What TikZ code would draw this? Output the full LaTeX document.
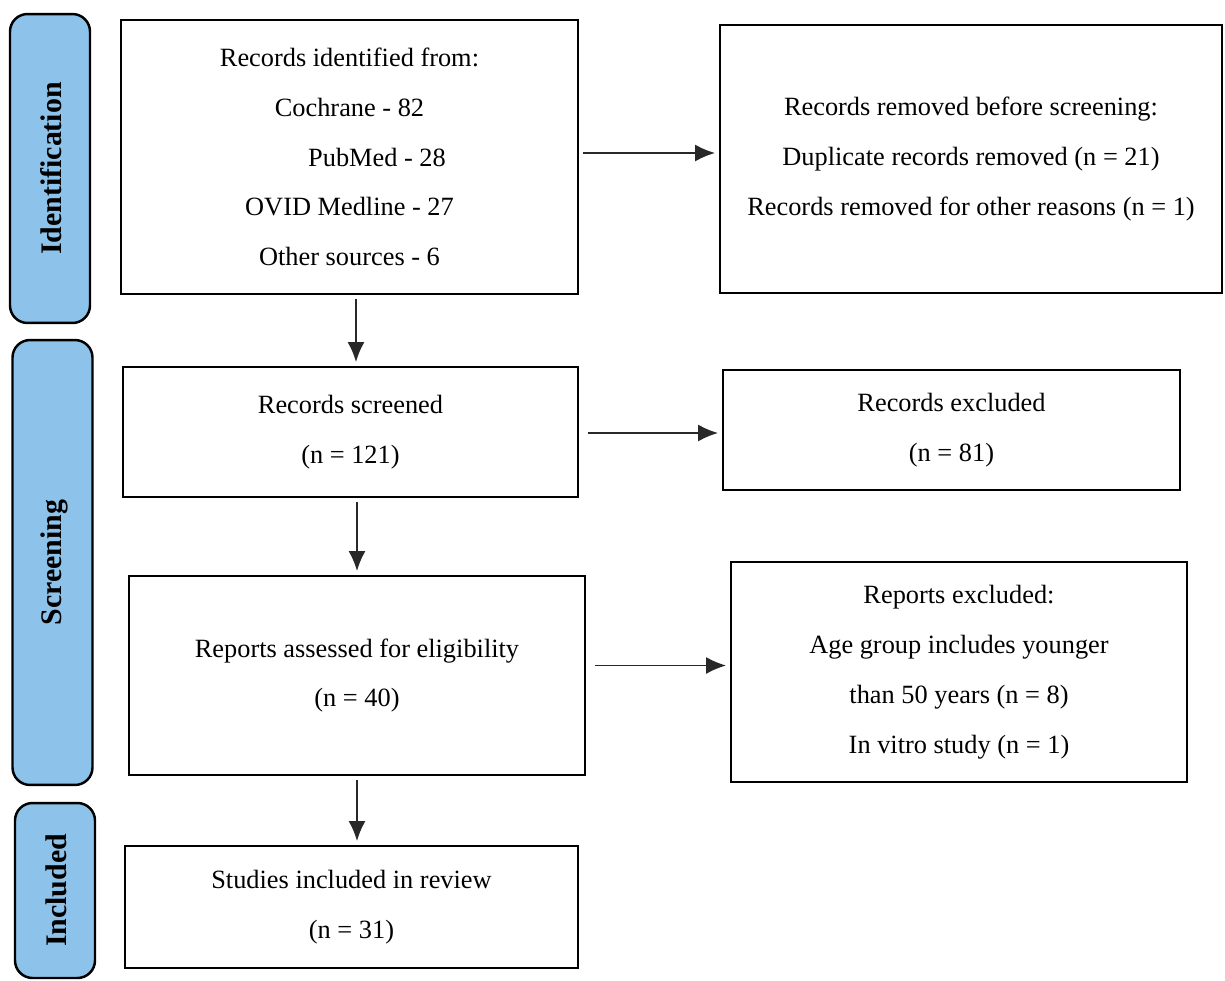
\documentclass[tikz,border=0pt]{standalone}
\usepackage{fontspec}
\setmainfont{Liberation Serif}
\usetikzlibrary{arrows.meta,positioning,calc}
\definecolor{PhaseBlue}{RGB}{141,195,234}
\definecolor{ArrowGray}{RGB}{40,40,40}
\tikzset{
  flowbox/.style={draw=black,line width=1.6pt,fill=white,align=center,
    font=\fontsize{15}{28.35}\selectfont,inner sep=0pt},
  phasebar/.style={draw=black,line width=1.4pt,rounded corners=3.5mm,fill=PhaseBlue,
    minimum width=1.6cm},
  phaselabel/.style={rotate=90,font=\fontsize{17}{19}\selectfont\bfseries},
  flowarrow/.style={-{Latex[length=4mm,width=3.4mm]},line width=1.1pt,draw=ArrowGray,
    shorten <=2pt,shorten >=2pt},
}
\begin{document}
\begin{tikzpicture}[x=0.02cm,y=-0.02cm]
  \useasboundingbox (0,0) rectangle (1225,981);
  % phase bars on the left
  \node[phasebar,minimum height=6.18cm] (idbar) at (50,168.5) {};
  \node[phaselabel] at ([xshift=0.03cm]idbar) {Identification};
  \node[phasebar,minimum height=8.9cm] (scbar) at (52.5,562.5) {};
  \node[phaselabel] at ([xshift=0.03cm]scbar) {Screening};
  \node[phasebar,minimum height=3.5cm] (inbar) at (55,890.5) {};
  \node[phaselabel] at ([xshift=0.03cm]inbar) {Included};
  % main column
  \node[flowbox,minimum width=9.14cm,minimum height=5.48cm] (ident) at (349.5,157)
    {Records identified from:\\Cochrane - 82\\\hspace*{1.1cm}PubMed - 28\\OVID Medline - 27\\Other sources - 6};
  \node[flowbox,minimum width=9.1cm,minimum height=2.6cm] (screened) at (350.5,432)
    {Records screened\\(n = 121)};
  \node[flowbox,minimum width=9.12cm,minimum height=3.98cm] (assessed) at (357,675.5)
    {Reports assessed for eligibility\\(n = 40)};
  \node[flowbox,minimum width=9.06cm,minimum height=2.44cm] (included) at (351.5,907)
    {Studies included in review\\(n = 31)};
  % right column
  \node[flowbox,minimum width=10.04cm,minimum height=5.36cm] (removed) at (971,159)
    {Records removed before screening:\\Duplicate records removed (n = 21)\\Records removed for other reasons (n = 1)};
  \node[flowbox,minimum width=9.14cm,minimum height=2.4cm] (excluded) at (951.5,430)
    {Records excluded\\(n = 81)};
  \node[flowbox,minimum width=9.12cm,minimum height=4.4cm] (reportsexcl) at (959,672)
    {Reports excluded:\\Age group includes younger\\than 50 years (n = 8)\\In vitro study (n = 1)};
  % arrows
  \draw[flowarrow] ([yshift=0.08cm]ident.east) -- ([yshift=0.08cm]ident.east -| removed.west);
  \draw[flowarrow] ([xshift=0.1cm,yshift=-0.02cm]screened.east) -- ([yshift=-0.02cm]screened.east -| excluded.west);
  \draw[flowarrow] ([xshift=0.1cm,yshift=0.2cm]assessed.east) -- ([yshift=0.2cm]assessed.east -| reportsexcl.west);
  \draw[flowarrow] ([xshift=0.13cm]ident.south) -- ([xshift=0.13cm]ident.south |- screened.north);
  \draw[flowarrow] ([xshift=0.13cm]screened.south) -- ([xshift=0.13cm]screened.south |- assessed.north);
  \draw[flowarrow] (assessed.south) -- (assessed.south |- included.north);
\end{tikzpicture}
\end{document}
